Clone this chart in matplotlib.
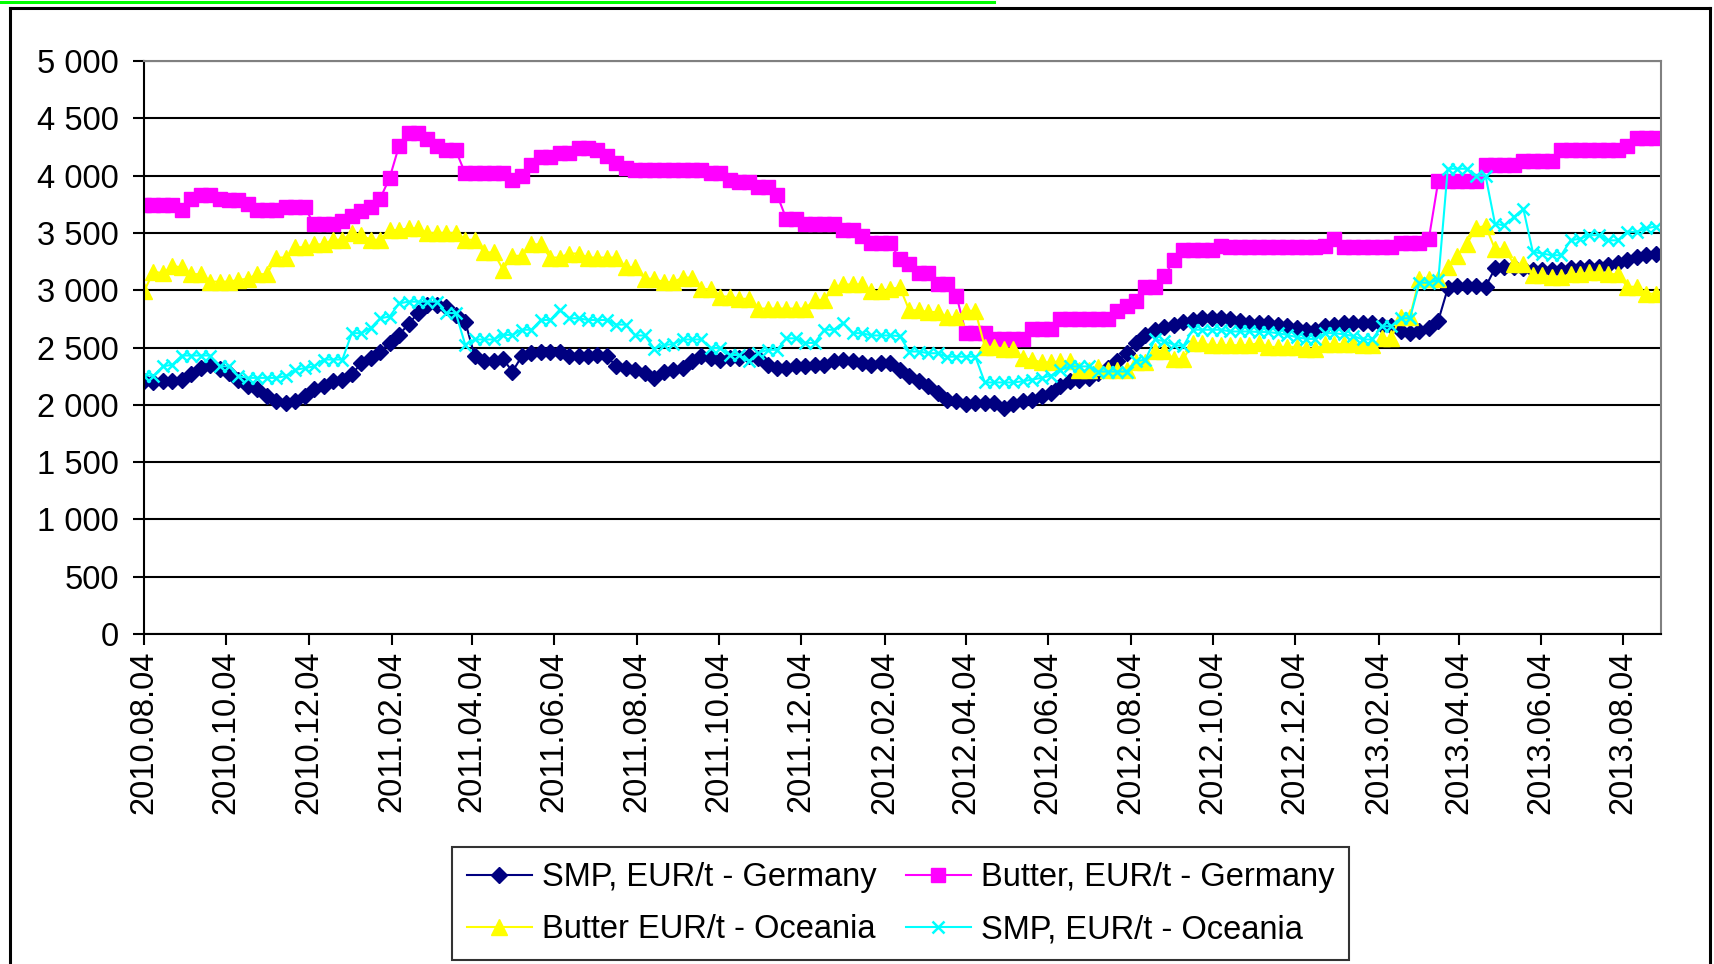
# Weekly dairy prices: SMP and butter, Germany vs Oceania (EUR/t)

import pandas as pd
import matplotlib
matplotlib.use("Agg")
import matplotlib.pyplot as plt
import matplotlib.dates as mdates
from matplotlib.lines import Line2D
from matplotlib.ticker import FuncFormatter

plt.rcParams['font.family'] = ['Liberation Sans', 'DejaVu Sans']

start_date = "2010-08-04"

smp_germany = [
    2210, 2200, 2210, 2210, 2220, 2265, 2320, 2350, 2315, 2280,
    2220, 2160, 2135, 2075, 2030, 2015, 2030, 2075, 2140, 2160,
    2205, 2220, 2265, 2365, 2410, 2465, 2540, 2610, 2705, 2800,
    2870, 2870, 2855, 2785, 2725, 2425, 2380, 2380, 2400, 2290,
    2425, 2450, 2460, 2460, 2460, 2425, 2425, 2425, 2435, 2425,
    2335, 2320, 2305, 2280, 2235, 2290, 2305, 2320, 2380, 2425,
    2410, 2395, 2410, 2410, 2425, 2410, 2350, 2320, 2320, 2335,
    2335, 2350, 2350, 2380, 2395, 2380, 2365, 2350, 2365, 2365,
    2305, 2250, 2205, 2160, 2105, 2045, 2030, 2005, 2015, 2015,
    2015, 1975, 2005, 2030, 2045, 2075, 2105, 2160, 2205, 2220,
    2235, 2280, 2320, 2380, 2450, 2540, 2610, 2650, 2680, 2700,
    2720, 2740, 2755, 2760, 2755, 2745, 2730, 2715, 2710, 2710,
    2700, 2685, 2670, 2655, 2655, 2685, 2700, 2710, 2710, 2710,
    2710, 2700, 2685, 2640, 2625, 2640, 2670, 2735, 3015, 3035,
    3035, 3035, 3030, 3190, 3205, 3205, 3190, 3175, 3175, 3175,
    3175, 3190, 3190, 3205, 3205, 3220, 3235, 3265, 3290, 3305,
    3315,
]

butter_germany = [
    3740, 3740, 3740, 3740, 3700, 3800, 3830, 3830, 3800, 3790,
    3790, 3750, 3700, 3700, 3700, 3725, 3725, 3725, 3575, 3575,
    3575, 3600, 3650, 3690, 3730, 3800, 3980, 4260, 4370, 4370,
    4320, 4260, 4220, 4220, 4020, 4020, 4020, 4020, 4020, 3960,
    4000, 4090, 4160, 4160, 4195, 4195, 4240, 4240, 4220, 4175,
    4110, 4065, 4050, 4050, 4050, 4050, 4050, 4050, 4050, 4050,
    4020, 4020, 3965, 3940, 3940, 3900, 3900, 3835, 3620, 3620,
    3575, 3575, 3575, 3575, 3525, 3525, 3470, 3410, 3410, 3410,
    3270, 3230, 3150, 3150, 3050, 3050, 2950, 2625, 2625, 2625,
    2570, 2570, 2570, 2570, 2660, 2660, 2660, 2750, 2750, 2750,
    2750, 2750, 2750, 2820, 2860, 2910, 3030, 3030, 3120, 3265,
    3355, 3355, 3355, 3355, 3390, 3375, 3375, 3375, 3375, 3375,
    3375, 3375, 3375, 3375, 3375, 3390, 3445, 3375, 3375, 3375,
    3375, 3375, 3375, 3410, 3410, 3410, 3450, 3955, 3955, 3955,
    3955, 3955, 4090, 4090, 4090, 4090, 4130, 4130, 4130, 4130,
    4220, 4220, 4220, 4220, 4220, 4220, 4220, 4260, 4325, 4325,
    4325,
]

butter_oceania = [
    2990, 3160, 3150, 3210, 3200, 3140, 3140, 3075, 3075, 3075,
    3090, 3100, 3140, 3140, 3285, 3285, 3375, 3375, 3400, 3400,
    3440, 3440, 3500, 3480, 3440, 3440, 3525, 3525, 3540, 3540,
    3500, 3500, 3500, 3500, 3440, 3440, 3330, 3330, 3180, 3300,
    3300, 3400, 3400, 3285, 3285, 3320, 3320, 3285, 3285, 3285,
    3285, 3200, 3200, 3100, 3100, 3070, 3070, 3110, 3110, 3010,
    3010, 2945, 2945, 2925, 2925, 2840, 2840, 2840, 2840, 2840,
    2840, 2915, 2915, 3025, 3050, 3050, 3050, 2990, 2990, 3010,
    3025, 2825, 2825, 2810, 2810, 2765, 2765, 2820, 2820, 2505,
    2505, 2490, 2490, 2405, 2395, 2370, 2370, 2380, 2380, 2300,
    2300, 2330, 2300, 2300, 2300, 2375, 2375, 2470, 2470, 2400,
    2400, 2535, 2535, 2520, 2520, 2520, 2520, 2520, 2540, 2505,
    2505, 2505, 2505, 2490, 2490, 2530, 2530, 2530, 2530, 2520,
    2520, 2580, 2580, 2770, 2770, 3100, 3100, 3100, 3200, 3300,
    3400, 3545, 3560, 3360, 3360, 3230, 3230, 3130, 3130, 3115,
    3115, 3140, 3140, 3155, 3155, 3140, 3140, 3030, 3030, 2970,
    2970,
]

smp_oceania = [
    2255, 2255, 2335, 2350, 2430, 2430, 2430, 2430, 2335, 2335,
    2250, 2235, 2235, 2235, 2235, 2250, 2305, 2320, 2335, 2395,
    2395, 2395, 2625, 2625, 2670, 2755, 2770, 2885, 2900, 2900,
    2900, 2900, 2800, 2800, 2525, 2570, 2570, 2570, 2610, 2610,
    2655, 2655, 2740, 2740, 2830, 2755, 2755, 2740, 2740, 2740,
    2700, 2700, 2605, 2605, 2490, 2520, 2530, 2570, 2570, 2570,
    2495, 2495, 2435, 2435, 2380, 2450, 2480, 2480, 2580, 2580,
    2540, 2540, 2655, 2655, 2715, 2625, 2625, 2605, 2605, 2605,
    2600, 2465, 2465, 2450, 2450, 2420, 2420, 2420, 2420, 2195,
    2195, 2195, 2195, 2205, 2220, 2235, 2255, 2305, 2335, 2335,
    2335, 2290, 2290, 2290, 2290, 2380, 2395, 2570, 2555, 2525,
    2510, 2655, 2655, 2655, 2655, 2640, 2640, 2640, 2635, 2635,
    2625, 2610, 2590, 2575, 2575, 2625, 2625, 2615, 2600, 2570,
    2570, 2685, 2685, 2755, 2755, 3065, 3065, 3090, 4060, 4060,
    4060, 4000, 4000, 3580, 3565, 3640, 3710, 3335, 3320, 3305,
    3305, 3435, 3450, 3480, 3480, 3435, 3435, 3510, 3510, 3540,
    3555,
]

labels = ["SMP, EUR/t - Germany", "Butter, EUR/t - Germany",
          "Butter EUR/t - Oceania", "SMP, EUR/t - Oceania"]

dates = pd.date_range(start_date, periods=len(smp_germany), freq="7D")
tick_dates = pd.date_range("2010-08-01", "2013-08-01", freq="2MS") + pd.Timedelta(days=3)

W, H = 1714, 964
fig = plt.figure(figsize=(W / 100, H / 100), dpi=100)
ax = fig.add_axes([144 / W, 1 - 634 / H, (1661 - 144) / W, (634 - 61) / H])

l1, = ax.plot(dates, smp_germany, color="#000080", lw=1.5, marker="D", ms=8.5,
              mec="#000080", mfc="#000080")
l2, = ax.plot(dates, butter_germany, color="#FF00FF", lw=1.5, marker="s", ms=9.5,
              mec="#FF00FF", mfc="#FF00FF")
l3, = ax.plot(dates, butter_oceania, color="#FFFF00", lw=1.5, marker="^", ms=12,
              mec="#FFFF00", mfc="#FFFF00")
l4, = ax.plot(dates, smp_oceania, color="#00FFFF", lw=1.5, marker="x", ms=9,
              mew=1.8)

ax.set_ylim(0, 5000)
ax.set_xlim(pd.Timestamp("2010-08-04"), pd.Timestamp("2013-09-01"))
ax.set_yticks(range(0, 5001, 500))
ax.yaxis.set_major_formatter(FuncFormatter(lambda v, p: f"{v:,.0f}".replace(",", " ")))
ax.set_xticks(tick_dates)
ax.xaxis.set_major_formatter(mdates.DateFormatter("%Y.%m.%d"))
ax.tick_params(axis="both", labelsize=23.5, length=8, width=1.5, direction="out", color="black")
ax.tick_params(axis="y", pad=10)
ax.tick_params(axis="x", pad=4)
for lab in ax.get_xticklabels():
    lab.set_rotation(90)
    lab.set_ha("center")
    lab.set_va("top")

ax.grid(axis="y", color="black", lw=1.5)
ax.set_axisbelow(True)
ax.spines["left"].set_color("black")
ax.spines["bottom"].set_color("black")
ax.spines["top"].set_color("#808080")
ax.spines["right"].set_color("#808080")
for s in ax.spines.values():
    s.set_linewidth(1.5)

leg = fig.legend([l1, l3, l2, l4], [labels[0], labels[2], labels[1], labels[3]],
                 ncol=2, loc="center", bbox_to_anchor=(0.5254, 0.0627),
                 fontsize=23.5, frameon=True, fancybox=False, edgecolor="black",
                 handlelength=2.0, handletextpad=0.3, columnspacing=0.9,
                 borderpad=0.45, labelspacing=0.65)
leg.get_frame().set_linewidth(1.5)

# outer frame and the green strip on top
fig.add_artist(Line2D([9.5 / W, 9.5 / W], [-0.01, 1 - 7.5 / H], color="black", lw=2.2))
fig.add_artist(Line2D([9.5 / W, 1710 / W], [1 - 7.5 / H, 1 - 7.5 / H], color="black", lw=2.2))
fig.add_artist(Line2D([1710 / W, 1710 / W], [-0.01, 1 - 7.5 / H], color="black", lw=2.2))
fig.add_artist(Line2D([0, 994 / W], [1 - 1.5 / H, 1 - 1.5 / H], color="#00FF00", lw=2.2))

fig.savefig("out.png", dpi=100)
